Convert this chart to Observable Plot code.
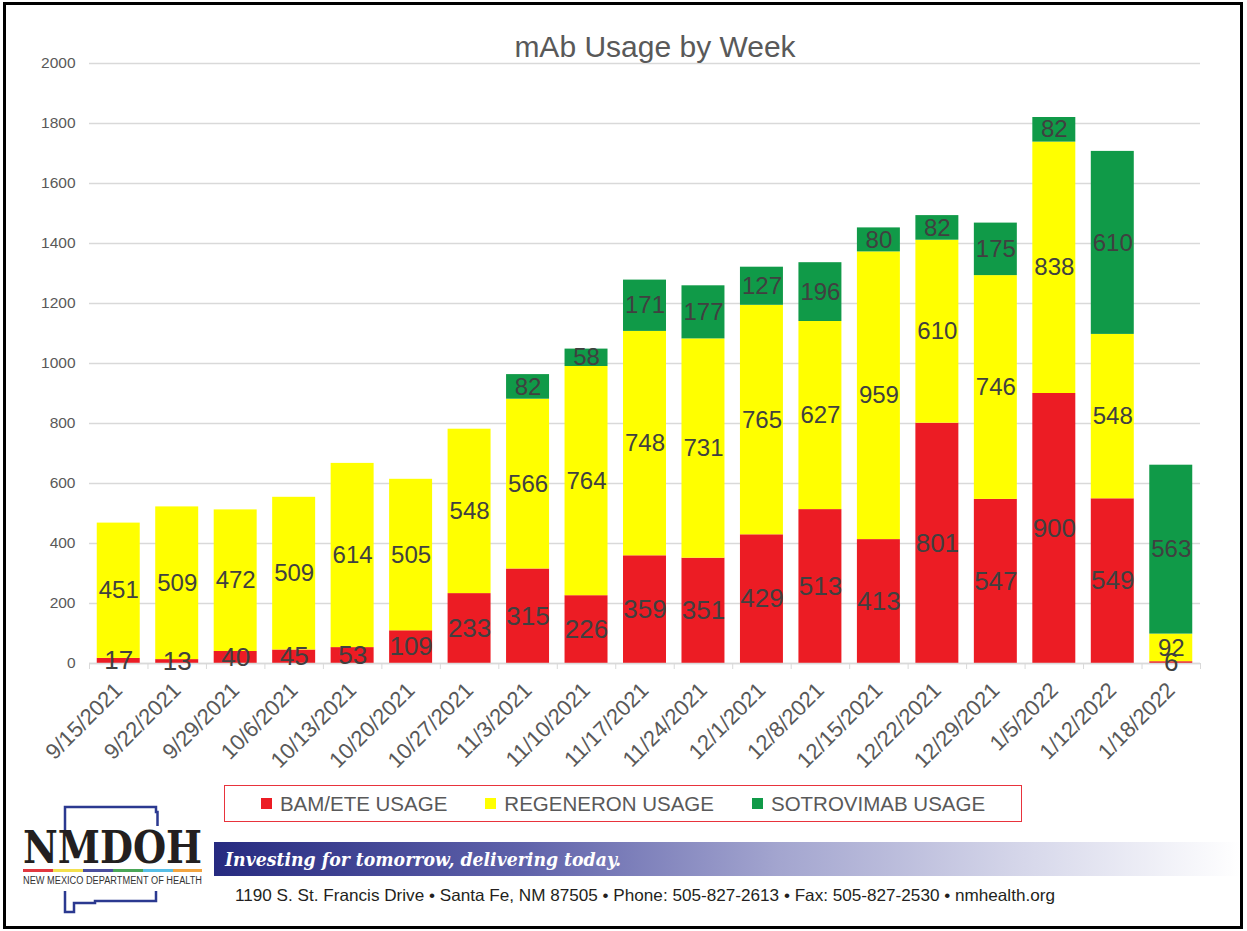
<!DOCTYPE html>
<html><head><meta charset="utf-8">
<script src="https://cdn.jsdelivr.net/npm/d3@7"></script>
<script src="https://cdn.jsdelivr.net/npm/@observablehq/plot@0.6"></script>
<style>
html,body{margin:0;padding:0;background:#fff;}
body{width:1247px;height:931px;position:relative;overflow:hidden;font-family:"Liberation Sans",Arial,sans-serif;}
#chart{position:absolute;left:0;top:0;}
#title{position:absolute;left:455px;width:400px;top:32px;text-align:center;font-size:30px;line-height:30px;color:#595959;}
#legend{position:absolute;left:224px;top:785px;width:798px;height:37px;box-sizing:border-box;border:1px solid #e8333c;display:flex;align-items:center;justify-content:center;gap:38px;font-size:20.5px;color:#595959;}
#legend .item{display:flex;align-items:center;}
#legend .sw{width:11px;height:11px;margin-right:8px;}
#deco{position:absolute;left:0;top:0;}
#frame{position:absolute;left:3px;top:2px;width:1240px;height:927px;border:3px solid #000;box-sizing:border-box;}
</style></head>
<body>
<div id="chart"></div>
<div id="title">mAb Usage by Week</div>
<div id="legend"></div>
<svg id="deco" width="1247" height="931">
  <defs>
    <linearGradient id="band" x1="0" x2="1" y1="0" y2="0">
      <stop offset="0" stop-color="#262a80"/>
      <stop offset="0.3" stop-color="#5f62aa"/>
      <stop offset="0.55" stop-color="#a3a5cf"/>
      <stop offset="0.8" stop-color="#d8d9eb"/>
      <stop offset="1" stop-color="#ffffff"/>
    </linearGradient>
  </defs>
  <rect x="214" y="842" width="1026" height="34" fill="url(#band)"/>
  <text x="225" y="866" font-family="DejaVu Serif" font-weight="bold" font-style="italic" font-size="18" fill="#ffffff" textLength="396" lengthAdjust="spacingAndGlyphs">Investing for tomorrow, delivering today.</text>
  <text x="235" y="901" font-family="Liberation Sans, Arial, sans-serif" font-size="16.5" fill="#231f20" textLength="820" lengthAdjust="spacingAndGlyphs">1190 S. St. Francis Drive • Santa Fe, NM 87505 • Phone: 505-827-2613 • Fax: 505-827-2530 • nmhealth.org</text>
  <path d="M65,830 L65,807 L156,807 L156,812 L157.5,812 L157.5,826" fill="none" stroke="#2b3990" stroke-width="2.5"/>
  <path d="M65,891 L65,912 L74,912 L74,903 L95,903 L95,901 L156,901 L156,891" fill="none" stroke="#2b3990" stroke-width="2.5"/>
  <text x="23" y="863" font-family="DejaVu Serif" font-weight="bold" font-size="44" fill="#231f20" textLength="179" lengthAdjust="spacingAndGlyphs">NMDOH</text>
  <rect x="23" y="869" width="30" height="3" fill="#e2383f"/>
  <rect x="53" y="869" width="30" height="3" fill="#f3e04e"/>
  <rect x="83" y="869" width="30" height="3" fill="#4b4f9e"/>
  <rect x="113" y="869" width="30" height="3" fill="#4aa657"/>
  <rect x="143" y="869" width="30" height="3" fill="#58bfe6"/>
  <rect x="173" y="869" width="29" height="3" fill="#f2a541"/>
  <text x="23" y="884" font-family="Liberation Sans, Arial, sans-serif" font-size="10" fill="#333" textLength="179" lengthAdjust="spacingAndGlyphs">NEW MEXICO DEPARTMENT OF HEALTH</text>
</svg>
<div id="frame"></div>
<script>
const weeks = ["9/15/2021","9/22/2021","9/29/2021","10/6/2021","10/13/2021","10/20/2021","10/27/2021","11/3/2021","11/10/2021","11/17/2021","11/24/2021","12/1/2021","12/8/2021","12/15/2021","12/22/2021","12/29/2021","1/5/2022","1/12/2022","1/18/2022"];
const bamEte     = [17,13,40,45,53,109,233,315,226,359,351,429,513,413,801,547,900,549,6];
const regeneron  = [451,509,472,509,614,505,548,566,764,748,731,765,627,959,610,746,838,548,92];
const sotrovimab = [0,0,0,0,0,0,0,82,58,171,177,127,196,80,82,175,82,610,563];
const seriesNames = ["BAM/ETE USAGE","REGENERON USAGE","SOTROVIMAB USAGE"];
const seriesColors = ["#ec1c24","#ffff00","#109a48"];
const yTicks = [0,200,400,600,800,1000,1200,1400,1600,1800,2000];

const seriesValues = [bamEte, regeneron, sotrovimab];
const rows = [];
weeks.forEach((w, i) => {
  seriesValues.forEach((arr, j) => {
    if (arr[i] > 0) rows.push({week: w, series: seriesNames[j], value: arr[i]});
  });
});

const W = 1247, mL = 89, mR = 47;
const step = (W - mL - mR) / weeks.length;

const chart = Plot.plot({
  width: W, height: 760,
  marginTop: 63, marginBottom: 97, marginLeft: mL, marginRight: mR,
  style: {fontFamily: "Liberation Sans, Arial, sans-serif", background: "transparent", overflow: "visible"},
  x: {domain: weeks, paddingInner: 0.265, paddingOuter: 0.1325, round: false, label: null},
  y: {domain: [0, 2000], label: null},
  color: {domain: seriesNames, range: seriesColors},
  marks: [
    Plot.gridY(yTicks, {stroke: "#d9d9d9", strokeOpacity: 1, strokeWidth: 1.3}),
    Plot.barY(rows, {x: "week", y: "value", fill: "series"}),
    Plot.ruleY([0], {stroke: "#d9d9d9", strokeWidth: 1.3}),
    Plot.axisX({tickSize: 6, text: null, stroke: "#d9d9d9", dx: -step / 2, label: null}),
    Plot.axisX([weeks[weeks.length - 1]], {tickSize: 6, text: null, stroke: "#d9d9d9", dx: step / 2, label: null}),
    Plot.axisX({tickSize: 0, tickPadding: 23, tickRotate: -45, fontSize: 22, fill: "#595959", label: null}),
    Plot.axisY(yTicks, {tickSize: 0, tickPadding: 14, fontSize: 15.5, fill: "#595959", tickFormat: d => String(d), label: null}),
    Plot.text(rows, Plot.stackY({
      x: "week", y: "value",
      text: d => String(d.value),
      fill: "#404040",
      fontSize: d => d.series === seriesNames[0] ? 26 : 24
    }))
  ]
});
document.getElementById("chart").appendChild(chart);

const legend = document.getElementById("legend");
seriesNames.forEach((name, j) => {
  const item = document.createElement("div");
  item.className = "item";
  const sw = document.createElement("span");
  sw.className = "sw";
  sw.style.background = seriesColors[j];
  const label = document.createElement("span");
  label.textContent = name;
  item.appendChild(sw);
  item.appendChild(label);
  legend.appendChild(item);
});
</script>
</body></html>
